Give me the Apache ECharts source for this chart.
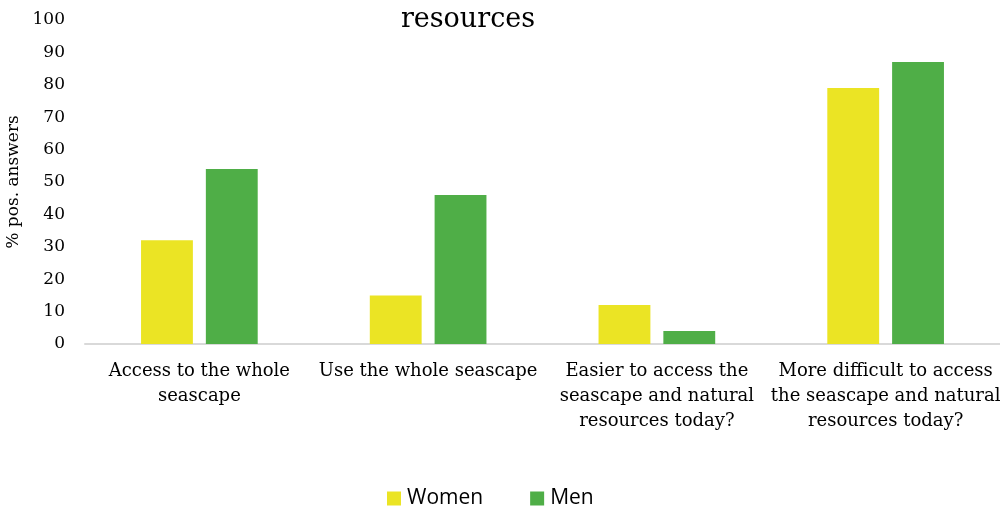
<!DOCTYPE html>
<html><head><meta charset="utf-8">
<script src="https://cdn.jsdelivr.net/npm/echarts@6/dist/echarts.min.js"></script>
<style>html,body{margin:0;padding:0;background:#fff}#c{width:1000px;height:506px}</style>
</head><body><div id="c"></div>
<script>
const categories = [
  "Access to the whole\nseascape",
  "Use the whole seascape",
  "Easier to access the\nseascape and natural\nresources today?",
  "More difficult to access\nthe seascape and natural\nresources today?"
];
const women = [32, 15, 12, 79];
const men = [54, 46, 4, 87];
const yTicks = [0, 10, 20, 30, 40, 50, 60, 70, 80, 90, 100];

const serif = "'DejaVu Serif', 'Liberation Serif', serif";
const chart = echarts.init(document.getElementById('c'));
chart.setOption({
  animation: false,
  title: {
    text: 'resources', left: 463, top: 1, textAlign: 'center',
    textStyle: { fontFamily: serif, fontSize: 27, fontWeight: 'normal', color: '#000' }
  },
  legend: {
    top: 483, left: 382, itemWidth: 14, itemHeight: 14, itemGap: 47,
    icon: 'rect',
    textStyle: { fontFamily: "'Open Sans', 'DejaVu Sans', sans-serif", fontSize: 21, color: '#000', padding: [0, 0, 0, 1] },
    data: ['Women', 'Men']
  },
  grid: { left: 85, right: 0, top: 20, bottom: 162, containLabel: false, outerBoundsMode: 'none' },
  xAxis: {
    type: 'category', data: categories,
    axisLine: { lineStyle: { color: '#d9d9d9', width: 2 } },
    axisTick: { show: false },
    axisLabel: { fontFamily: serif, fontSize: 18, color: '#000', lineHeight: 25, margin: 15, interval: 0 }
  },
  yAxis: {
    type: 'value', min: 0, max: 100, interval: 10,
    name: '% pos. answers', nameLocation: 'middle', nameGap: 58, nameRotate: 90,
    nameTextStyle: { fontFamily: serif, fontSize: 17, color: '#000' },
    axisLine: { show: false }, axisTick: { show: false }, splitLine: { show: false },
    axisLabel: { fontFamily: serif, fontSize: 17, color: '#000', margin: 20,
      formatter: v => yTicks.includes(v) ? String(v) : '' }
  },
  series: [
    { name: 'Women', type: 'bar', data: women, itemStyle: { color: '#EBE424' },
      barGap: '25%', barCategoryGap: '49%' },
    { name: 'Men', type: 'bar', data: men, itemStyle: { color: '#4FAE47' },
      barGap: '25%', barCategoryGap: '49%' }
  ]
});
</script></body></html>
